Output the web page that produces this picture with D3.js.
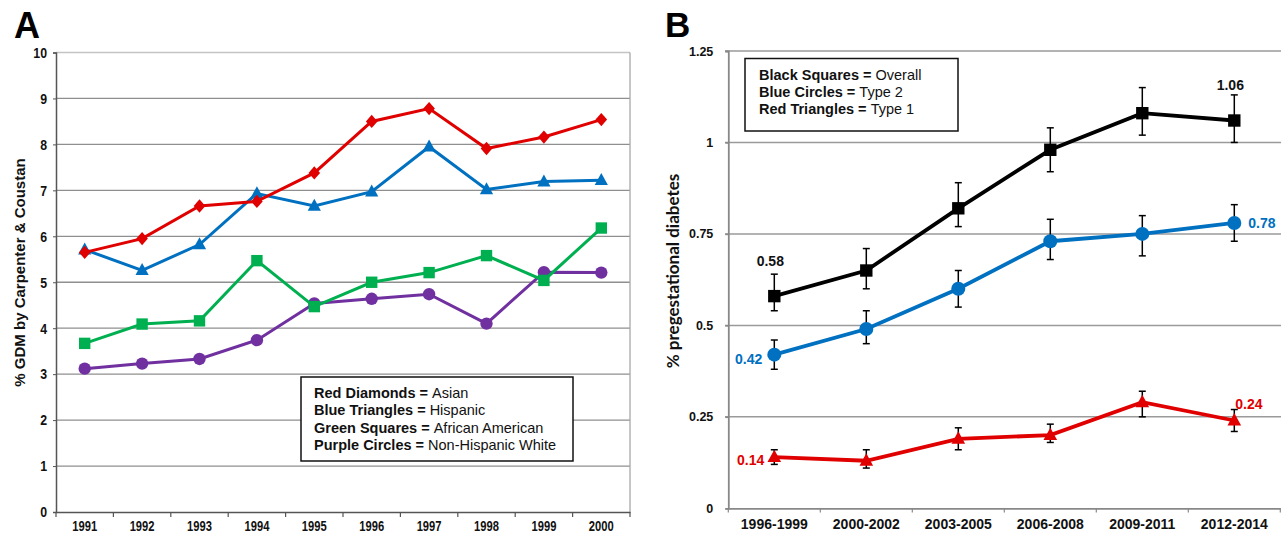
<!DOCTYPE html>
<html><head><meta charset="utf-8">
<script src="https://cdn.jsdelivr.net/npm/d3@7/dist/d3.min.js"></script>
<style>body{margin:0;background:#fff}svg{display:block;font-family:Arial,"Liberation Sans",sans-serif}</style>
</head><body><svg id="c" width="1282" height="536"></svg>
<script>
// ---------- Panel A data ----------
const yearsA = ["1991","1992","1993","1994","1995","1996","1997","1998","1999","2000"];
const asian    = [5.65,5.95,6.66,6.76,7.38,8.50,8.78,7.91,8.16,8.54];
const hispanic = [5.71,5.26,5.82,6.93,6.66,6.97,7.95,7.02,7.19,7.22];
const africanAmerican = [3.67,4.09,4.16,5.47,4.47,5.00,5.21,5.58,5.04,6.18];
const nonHispanicWhite = [3.12,3.23,3.33,3.74,4.54,4.64,4.74,4.10,5.22,5.21];
const ticksA = [0,1,2,3,4,5,6,7,8,9,10];
const legendA = [["Red Diamonds = ","Asian"],["Blue Triangles = ","Hispanic"],["Green Squares = ","African American"],["Purple Circles = ","Non-Hispanic White"]];

// ---------- Panel B data ----------
const periodsB = ["1996-1999","2000-2002","2003-2005","2006-2008","2009-2011","2012-2014"];
const overall    = [0.58,0.65,0.82,0.98,1.08,1.06];
const overallLo  = [0.54,0.60,0.77,0.92,1.02,1.00];
const overallHi  = [0.64,0.71,0.89,1.04,1.15,1.13];
const type2      = [0.42,0.49,0.60,0.73,0.75,0.78];
const type2Lo    = [0.38,0.45,0.55,0.68,0.69,0.73];
const type2Hi    = [0.46,0.54,0.65,0.79,0.80,0.83];
const type1      = [0.14,0.13,0.19,0.20,0.29,0.24];
const type1Lo    = [0.12,0.11,0.16,0.18,0.25,0.21];
const type1Hi    = [0.16,0.16,0.22,0.23,0.32,0.27];
const ticksB = [0,0.25,0.5,0.75,1,1.25];
const tickLabelsB = ["0","0.25","0.5","0.75","1","1.25"];
const legendB = [["Black Squares = ","Overall"],["Blue Circles = ","Type 2"],["Red Triangles = ","Type 1"]];

const svg = d3.select("#c");
const RED="#e00000", BLUE="#0070c0", GREEN="#00b050", PURPLE="#7030a0";

function condense(sel, f){ sel.each(function(){ const l=this.getComputedTextLength(); d3.select(this).attr("textLength", l*f).attr("lengthAdjust","spacingAndGlyphs"); }); }

// ================= Panel A =================
const xA = d3.scaleBand().domain(yearsA).range([56,630]);
const yA = d3.scaleLinear().domain([0,10]).range([512,52.5]);
const gA = svg.append("g");

gA.append("text").attr("x",14).attr("y",37.5).attr("font-size",36).attr("font-weight","bold").text("A");

// grid
gA.selectAll(".gridA").data(ticksA.filter(d=>d>0)).join("line")
  .attr("x1",56).attr("x2",630).attr("y1",d=>yA(d)).attr("y2",d=>yA(d))
  .attr("stroke",d=>d===10?"#c4c4c4":"#8f8f8f").attr("stroke-width",1.3);
gA.append("line").attr("x1",630).attr("x2",630).attr("y1",yA(10)).attr("y2",yA(0)).attr("stroke","#a8a8a8").attr("stroke-width",1.3);

// y axis
const axYA = gA.append("g").attr("transform","translate(56,0)")
  .call(d3.axisLeft(yA).tickValues(ticksA).tickSize(3).tickPadding(6).tickFormat(d3.format("d")));
axYA.select(".domain").attr("stroke","#555").attr("stroke-width",1.5);
axYA.selectAll(".tick line").attr("stroke","#555");
axYA.selectAll(".tick text").attr("font-size",15).attr("font-weight","bold").attr("fill","#111").attr("font-family","Arial,'Liberation Sans',sans-serif").call(condense,0.82);

// x axis
const axXA = gA.append("g").attr("transform","translate(0,512)")
  .call(d3.axisBottom(xA).tickSize(0).tickPadding(9));
axXA.select(".domain").attr("stroke","#555").attr("stroke-width",1.5);
axXA.selectAll(".tick text").attr("font-size",14).attr("font-weight","bold").attr("fill","#111").attr("font-family","Arial,'Liberation Sans',sans-serif").call(condense,0.8);
gA.selectAll(".xtA").data(yearsA.concat(["end"])).join("line")
  .attr("x1",(d,i)=>i<yearsA.length?xA(d):xA.range()[1]).attr("x2",(d,i)=>i<yearsA.length?xA(d):xA.range()[1])
  .attr("y1",512).attr("y2",517).attr("stroke","#555").attr("stroke-width",1.2);

// y title
gA.append("text").attr("transform","translate(24.5,272.5) rotate(-90)").attr("text-anchor","middle")
  .attr("font-size",15).attr("fill","#111").attr("font-weight","600").text("% GDM by Carpenter & Coustan");

const cxA = d=>xA(d)+xA.bandwidth()/2;
const seriesA = [
  {vals:asian,color:RED,shape:"diamond"},
  {vals:hispanic,color:BLUE,shape:"triangle"},
  {vals:africanAmerican,color:GREEN,shape:"square"},
  {vals:nonHispanicWhite,color:PURPLE,shape:"circle"}
];
function shapePath(shape, s){
  if(shape==="diamond") return `M0,${-s*1.15}L${s},0L0,${s*1.15}L${-s},0Z`;
  if(shape==="triangle") return `M0,${-s*1.2}L${s*1.1},${s*0.8}L${-s*1.1},${s*0.8}Z`;
  if(shape==="square") return `M${-s},${-s}H${s}V${s}H${-s}Z`;
  return d3.arc()({innerRadius:0,outerRadius:s,startAngle:0,endAngle:2*Math.PI});
}
const lineA = d3.line().x((d,i)=>cxA(yearsA[i])).y(d=>yA(d));
[...seriesA].reverse().forEach(s=>{
  gA.append("path").attr("d",lineA(s.vals)).attr("fill","none").attr("stroke",s.color).attr("stroke-width",3);
  gA.selectAll(null).data(s.vals).join("path")
    .attr("transform",(d,i)=>`translate(${cxA(yearsA[i])},${yA(d)})`)
    .attr("d",shapePath(s.shape, s.shape==="diamond"?5.8:s.shape==="triangle"?6:s.shape==="square"?5.7:6.2))
    .attr("fill",s.color);
});

// legend A
gA.append("rect").attr("x",301).attr("y",377).attr("width",272).attr("height",84).attr("fill","#fff").attr("stroke","#111").attr("stroke-width",1.5);
legendA.forEach((l,i)=>{
  const t = gA.append("text").attr("x",314).attr("y",397.5+i*17.6).attr("font-size",14.5).attr("fill","#111");
  t.append("tspan").attr("font-weight","bold").text(l[0]);
  t.append("tspan").text(l[1]);
});

// ================= Panel B =================
const xB = d3.scaleBand().domain(periodsB).range([728.3,1280.3]);
const yB = d3.scaleLinear().domain([0,1.25]).range([508.3,51]);
const gB = svg.append("g");
gB.append("text").attr("x",665).attr("y",37).attr("font-size",35).attr("font-weight","bold").text("B");

gB.selectAll(".gridB").data(ticksB.filter(d=>d>0)).join("line")
  .attr("x1",725).attr("x2",1281).attr("y1",d=>yB(d)).attr("y2",d=>yB(d))
  .attr("stroke","#9a9a9a").attr("stroke-width",1.5);

const axYB = gB.append("g").attr("transform","translate(728.3,0)")
  .call(d3.axisLeft(yB).tickValues(ticksB).tickSize(3).tickPadding(12).tickFormat((d,i)=>tickLabelsB[i]));
axYB.select(".domain").attr("stroke","#888").attr("stroke-width",1.8);
axYB.selectAll(".tick line").attr("stroke","#888").attr("stroke-width",1.5);
axYB.selectAll(".tick text").attr("font-size",12.5).attr("font-weight","bold").attr("fill","#111").attr("font-family","Arial,'Liberation Sans',sans-serif");

const axXB = gB.append("g").attr("transform","translate(0,508.3)")
  .call(d3.axisBottom(xB).tickSize(0).tickPadding(11));
axXB.select(".domain").attr("stroke","#888").attr("stroke-width",1.8);
axXB.selectAll(".tick text").attr("font-size",14).attr("font-weight","bold").attr("fill","#111").attr("font-family","Arial,'Liberation Sans',sans-serif");
gB.selectAll(".xtB").data(periodsB.concat(["end"])).join("line")
  .attr("x1",(d,i)=>i<periodsB.length?xB(d):xB.range()[1]).attr("x2",(d,i)=>i<periodsB.length?xB(d):xB.range()[1])
  .attr("y1",508.3).attr("y2",512.5).attr("stroke","#888").attr("stroke-width",1.2);

gB.append("text").attr("transform","translate(678.5,271) rotate(-90)").attr("text-anchor","middle")
  .attr("font-size",17).attr("font-weight","bold").attr("fill","#111").attr("font-family","Lato,'Open Sans',sans-serif").text("% pregestational diabetes");

const cxB = d=>xB(d)+xB.bandwidth()/2;
const seriesB = [
  {vals:type1,lo:type1Lo,hi:type1Hi,color:RED,shape:"triangle",size:6.2},
  {vals:type2,lo:type2Lo,hi:type2Hi,color:BLUE,shape:"circle",size:7},
  {vals:overall,lo:overallLo,hi:overallHi,color:"#000",shape:"square",size:6.2}
];
const lineB = d3.line().x((d,i)=>cxB(periodsB[i])).y(d=>yB(d));
seriesB.forEach(s=>{
  s.vals.forEach((v,i)=>{
    const x=cxB(periodsB[i]);
    gB.append("line").attr("x1",x).attr("x2",x).attr("y1",yB(s.lo[i])).attr("y2",yB(s.hi[i])).attr("stroke","#000").attr("stroke-width",1.5);
    [s.lo[i],s.hi[i]].forEach(e=>gB.append("line").attr("x1",x-3.5).attr("x2",x+3.5).attr("y1",yB(e)).attr("y2",yB(e)).attr("stroke","#000").attr("stroke-width",1.5));
  });
  gB.append("path").attr("d",lineB(s.vals)).attr("fill","none").attr("stroke",s.color).attr("stroke-width",3.8);
  gB.selectAll(null).data(s.vals).join("path")
    .attr("transform",(d,i)=>`translate(${cxB(periodsB[i])},${yB(d)})`)
    .attr("d",shapePath(s.shape,s.size)).attr("fill",s.color);
});

// data labels
const lab = (txt,x,y,anchor,color)=>gB.append("text").attr("x",x).attr("y",y).attr("text-anchor",anchor).attr("font-size",14).attr("font-weight","bold").attr("fill",color).text(txt);
const f2 = d3.format(".2f");
const n = periodsB.length-1;
lab(f2(overall[0]), cxB(periodsB[0])-4, yB(overallHi[0])-8, "middle", "#111");
lab(f2(overall[n]), cxB(periodsB[n])-4, yB(overallHi[n])-5, "middle", "#111");
lab(f2(type2[0]), cxB(periodsB[0])-12, yB(type2[0])+9, "end", BLUE);
lab(f2(type2[n]), cxB(periodsB[n])+14, yB(type2[n])+5, "start", BLUE);
lab(f2(type1[0]), cxB(periodsB[0])-10, yB(type1[0])+8, "end", RED);
lab(f2(type1[n]), cxB(periodsB[n])+1, yB(type1Hi[n])-1, "start", RED);

// legend B
gB.append("rect").attr("x",745).attr("y",58.5).attr("width",213).attr("height",72.5).attr("fill","#fff").attr("stroke","#111").attr("stroke-width",1.5);
legendB.forEach((l,i)=>{
  const t = gB.append("text").attr("x",759).attr("y",80+i*17.2).attr("font-size",14.5).attr("fill","#111");
  t.append("tspan").attr("font-weight","bold").text(l[0]);
  t.append("tspan").text(l[1]);
});
</script></body></html>
